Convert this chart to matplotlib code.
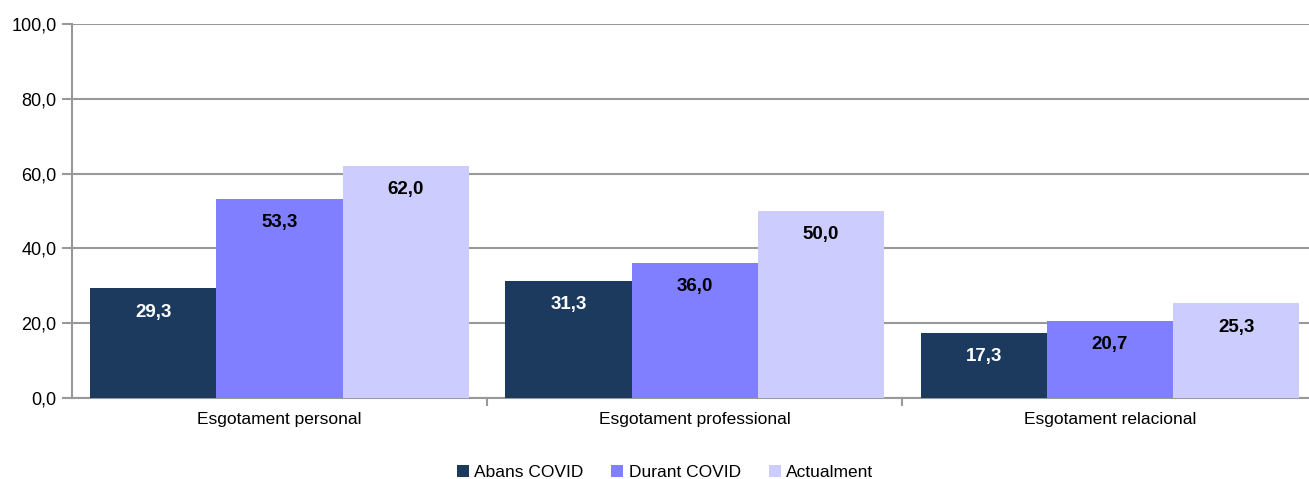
import numpy as np
import matplotlib.pyplot as plt
from matplotlib.ticker import FuncFormatter

plt.rcParams['font.family'] = ['Liberation Sans Narrow', 'Liberation Sans', 'DejaVu Sans']

categories = ["Esgotament personal", "Esgotament professional", "Esgotament relacional"]
series = ["Abans COVID", "Durant COVID", "Actualment"]
abans = [29.3, 31.3, 17.3]
durant = [53.3, 36.0, 20.7]
actual = [62.0, 50.0, 25.3]
values = [abans, durant, actual]
colors = ["#1b3a5e", "#7f7fff", "#ccccff"]
label_colors = ["white", "black", "black"]

fig = plt.figure(figsize=(13.09, 4.79), dpi=100)
# plot area runs slightly past the right edge of the image, as in the original
ax = fig.add_axes([0.055, 0.169, 0.9515, 0.781])

x = np.arange(len(categories))
width = 0.304
for i, (name, vals) in enumerate(zip(series, values)):
    pos = x + (i - 1) * width
    bars = ax.bar(pos, vals, width, color=colors[i], label=name, zorder=3)
    for b, v in zip(bars, vals):
        ax.annotate(f"{v:.1f}".replace(".", ","),
                    (b.get_x() + b.get_width() / 2, v),
                    xytext=(0, -17), textcoords="offset points",
                    ha="center", va="center", fontsize=13.5, fontweight="bold",
                    color=label_colors[i], zorder=4)

ax.set_xlim(-0.5, 2.5)
ax.set_ylim(0, 100)
ax.set_yticks(np.arange(0, 101, 20))
ax.yaxis.set_major_formatter(FuncFormatter(lambda v, p: f"{v:.1f}".replace(".", ",")))
ax.grid(axis="y", color="#999999", linewidth=1.5, zorder=0)

# category labels centered, tick marks at the boundaries
ax.set_xticks([0.5, 1.5])
ax.set_xticklabels([])
ax.set_xticks(x, minor=True)
ax.set_xticklabels(categories, minor=True, fontsize=12.5)
ax.tick_params(axis="x", which="major", length=6, color="#999999", width=1.5)
ax.tick_params(axis="x", which="minor", length=0, pad=10)
ax.tick_params(axis="y", length=7, color="#999999", width=1.5, labelsize=13, pad=4)

for s in ["top", "right"]:
    ax.spines[s].set_visible(False)
for s in ["left", "bottom"]:
    ax.spines[s].set_color("#999999")
    ax.spines[s].set_linewidth(1.5)

ax.legend(loc="lower center", bbox_to_anchor=(0.476, -0.26), ncol=3, frameon=False,
          fontsize=12.5, handlelength=0.7, handleheight=0.7, handletextpad=0.3,
          columnspacing=1.6)

fig.savefig("out.png", dpi=100)
